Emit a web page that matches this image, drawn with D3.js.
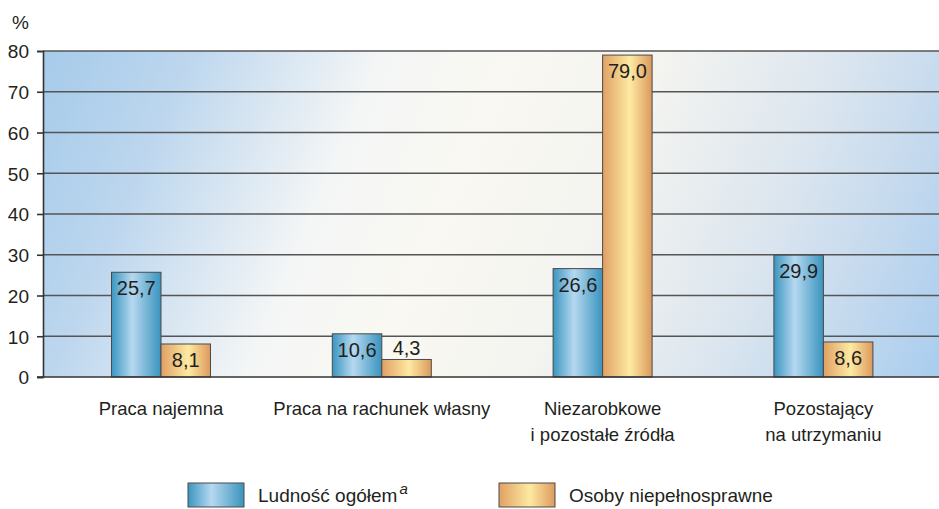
<!DOCTYPE html>
<html><head><meta charset="utf-8">
<script src="https://cdn.jsdelivr.net/npm/d3@7"></script>
<style>
html,body{margin:0;padding:0;background:#fff;}
svg{display:block;}
text{font-family:"Liberation Sans",Arial,Helvetica,sans-serif;fill:#231f20;}
</style></head>
<body>
<svg id="chart" width="939" height="509"></svg>
<script>
const categories = [["Praca najemna"], ["Praca na rachunek własny"], ["Niezarobkowe", "i pozostałe źródła"], ["Pozostający", "na utrzymaniu"]];
const seriesNames = ["Ludność ogółem", "Osoby niepełnosprawne"];
const ludnoscOgolem = [25.7, 10.6, 26.6, 29.9];
const osobyNiepelnosprawne = [8.1, 4.3, 79.0, 8.6];
const yTicks = [0, 10, 20, 30, 40, 50, 60, 70, 80];

const svg = d3.select("#chart");
const W = 939, H = 509;
const x0 = 43, x1 = W, yTop = 51, yBot = 377;

const catKeys = categories.map(c => c.join(" "));
const x = d3.scaleBand().domain(catKeys).range([50.6, 933.8]).paddingInner(0).paddingOuter(0);
const xs = d3.scaleBand().domain(seriesNames).range([-49.5, 49.5]);
const y = d3.scaleLinear().domain([0, 80]).range([yBot, yTop]);

const defs = svg.append("defs");
const bg = defs.append("linearGradient").attr("id", "bg").attr("gradientUnits", "userSpaceOnUse")
  .attr("x1", 43).attr("y1", 51).attr("x2", 918).attr("y2", 426);
[[0, "#a6cbea"], [0.14, "#bcd6ee"], [0.33, "#f4f6f6"], [0.45, "#f9f8f2"], [0.6, "#f4f4f0"], [0.76, "#dee7ef"], [0.88, "#c6daee"], [1, "#a9cdee"]]
  .forEach(([o, c]) => bg.append("stop").attr("offset", o).attr("stop-color", c));

const gBlue = defs.append("linearGradient").attr("id", "gBlue").attr("x1", 0).attr("x2", 1).attr("y1", 0).attr("y2", 0);
[[0, "#3a96c0"], [0.42, "#b6d8f0"], [1, "#3a94be"]].forEach(([o, c]) => gBlue.append("stop").attr("offset", o).attr("stop-color", c));
const gOr = defs.append("linearGradient").attr("id", "gOr").attr("x1", 0).attr("x2", 1).attr("y1", 0).attr("y2", 0);
[[0, "#e0a064"], [0.55, "#fdeaa2"], [1, "#dc9a5c"]].forEach(([o, c]) => gOr.append("stop").attr("offset", o).attr("stop-color", c));
const fills = ["url(#gBlue)", "url(#gOr)"];

// background
svg.append("rect").attr("x", x0).attr("y", yTop).attr("width", x1 - x0).attr("height", yBot - yTop).attr("fill", "url(#bg)");

// gridlines
svg.append("g").selectAll("line").data(yTicks.filter(t => t > 0)).join("line")
  .attr("x1", x0).attr("x2", x1).attr("y1", d => y(d)).attr("y2", d => y(d))
  .attr("stroke", "#555").attr("stroke-width", 1.6);

// y axis
const yAxis = d3.axisLeft(y).tickValues(yTicks).tickSize(6).tickPadding(8).tickFormat(d3.format("d"));
const ya = svg.append("g").attr("transform", `translate(${x0},0)`).call(yAxis);
ya.select(".domain").attr("stroke", "#333").attr("stroke-width", 1.6);
ya.selectAll(".tick line").attr("stroke", "#333").attr("stroke-width", 1.6);
ya.selectAll(".tick text").style("font-size", "19px").attr("fill", "#231f20").attr("dy", "0.36em");

svg.append("text").attr("x", 12).attr("y", 29).style("font-size", "19px").text("%");

// bars
const data = catKeys.map((k, i) => ({k, vals: [ludnoscOgolem[i], osobyNiepelnosprawne[i]]}));
const groups = svg.append("g").selectAll("g").data(data).join("g")
  .attr("transform", d => `translate(${x(d.k) + x.bandwidth() / 2},0)`);
groups.selectAll("rect").data(d => d.vals.map((v, j) => ({v, s: seriesNames[j], j}))).join("rect")
  .attr("x", d => xs(d.s)).attr("width", xs.bandwidth())
  .attr("y", d => y(d.v)).attr("height", d => y(0) - y(d.v))
  .attr("fill", d => fills[d.j]).attr("stroke", "#4a4a4a").attr("stroke-width", 1);
const fmt = v => d3.format(".1f")(v).replace(".", ",");
groups.selectAll("text").data(d => d.vals.map((v, j) => ({v, s: seriesNames[j], j}))).join("text")
  .attr("x", d => xs(d.s) + xs.bandwidth() / 2)
  .attr("y", d => (y(0) - y(d.v) < 22) ? y(d.v) - 4 : y(d.v) + 23)
  .attr("text-anchor", "middle").style("font-size", "20px").text(d => fmt(d.v));

// bottom axis line
svg.append("line").attr("x1", 37).attr("x2", x1).attr("y1", yBot).attr("y2", yBot).attr("stroke", "#333").attr("stroke-width", 1.6);

// category labels
const cl = svg.append("g").selectAll("text").data(categories).join("text")
  .attr("x", (d, i) => x(catKeys[i]) + x.bandwidth() / 2).attr("y", 415)
  .attr("text-anchor", "middle").style("font-size", "18.5px");
cl.selectAll("tspan").data(d => d).join("tspan")
  .attr("x", function () { return this.parentNode.getAttribute("x"); })
  .attr("dy", (d, i) => i === 0 ? 0 : 26).text(d => d);

// legend
const legX = d3.scaleOrdinal().domain(seriesNames).range([188, 499]);
const lg = svg.append("g").selectAll("g").data(seriesNames).join("g")
  .attr("transform", d => `translate(${legX(d)},483)`);
lg.append("rect").attr("width", 56).attr("height", 24).attr("fill", (d, i) => fills[i]).attr("stroke", "#4a4a4a").attr("stroke-width", 1);
const lt = lg.append("text").attr("x", 70).attr("y", 19).style("font-size", "19px");
lt.append("tspan").text(d => d);
lt.filter((d, i) => i === 0).append("tspan").attr("dy", -8).attr("dx", 2).style("font-size", "15px").style("font-style", "italic").text("a");
</script>
</body></html>
